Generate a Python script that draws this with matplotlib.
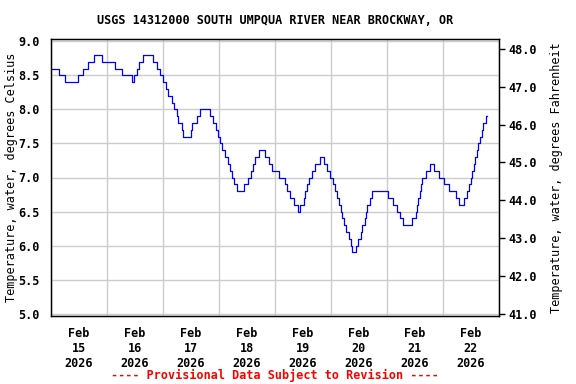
import numpy as np
import pandas as pd
import matplotlib
matplotlib.use('Agg')
from matplotlib import pyplot as plt
import matplotlib.dates as mdates
from matplotlib.ticker import FuncFormatter, MultipleLocator

# hours after 2026-02-15 00:00 at which the reading changes, and the new reading (deg C)
hours = [0, 3.4, 5.9, 11.7, 13.7, 15.9, 18.3, 22.0, 27.3, 30.6, 34.7, 35.6, 36.7, 37.6,
         39.3, 43.8, 45.6, 46.7, 48.0, 49.3, 50.3, 51.7, 52.9, 53.9, 54.6, 56.0, 56.7,
         59.9, 60.4, 62.4, 63.9, 68.1, 69.6, 70.7, 71.7, 72.5, 73.3, 74.7, 76.0, 76.9,
         77.6, 78.3, 79.6, 82.9, 84.4, 85.7, 86.7, 87.6, 89.3, 91.8, 93.6, 94.7, 97.9,
         100.4, 101.1, 102.6, 104.0, 105.9, 106.8, 108.3, 109.0, 109.7, 110.7, 111.9,
         113.3, 115.4, 116.9, 118.3, 119.7, 120.9, 121.6, 122.6, 123.4, 124.4, 124.9,
         125.4, 126.3, 127.6, 128.4, 129.0, 130.9, 131.6, 133.0, 133.4, 134.4, 135.1,
         135.6, 136.9, 137.6, 144.4, 146.7, 148.4, 149.6, 151.0, 154.9, 156.3, 156.7,
         157.3, 158.1, 158.4, 158.9, 160.6, 162.4, 164.1, 166.3, 168.4, 170.6, 173.6,
         175.0, 177.1, 178.4, 179.0, 180.0, 180.6, 181.2, 181.7, 182.4, 183.1, 183.9,
         184.6, 185.3, 186.4, 186.7]
temp_c = [8.6, 8.5, 8.4, 8.5, 8.6, 8.7, 8.8, 8.7, 8.6, 8.5, 8.4, 8.5, 8.6, 8.7,
          8.8, 8.7, 8.6, 8.5, 8.4, 8.3, 8.2, 8.1, 8.0, 7.9, 7.8, 7.7, 7.6,
          7.7, 7.8, 7.9, 8.0, 7.9, 7.8, 7.7, 7.6, 7.5, 7.4, 7.3, 7.2, 7.1,
          7.0, 6.9, 6.8, 6.9, 7.0, 7.1, 7.2, 7.3, 7.4, 7.3, 7.2, 7.1, 7.0,
          6.9, 6.8, 6.7, 6.6, 6.5, 6.6, 6.7, 6.8, 6.9, 7.0, 7.1,
          7.2, 7.3, 7.2, 7.1, 7.0, 6.9, 6.8, 6.7, 6.6, 6.5, 6.4,
          6.3, 6.2, 6.1, 6.0, 5.9, 6.0, 6.1, 6.2, 6.3, 6.4, 6.5,
          6.6, 6.7, 6.8, 6.7, 6.6, 6.5, 6.4, 6.3, 6.4, 6.5, 6.6,
          6.7, 6.8, 6.9, 7.0, 7.1, 7.2, 7.1, 7.0, 6.9, 6.8, 6.7,
          6.6, 6.7, 6.8, 6.9, 7.0, 7.1, 7.2, 7.3, 7.4, 7.5, 7.6,
          7.7, 7.8, 7.9, 7.9]

title = 'USGS 14312000 SOUTH UMPQUA RIVER NEAR BROCKWAY, OR'
start = pd.Timestamp('2026-02-15')
end = pd.Timestamp('2026-02-23')

plt.rc('font', family='DejaVu Sans Mono', weight='bold', size=8.5)

times = start + pd.to_timedelta(hours, unit='h')

fig = plt.figure(figsize=(5.76, 3.84), dpi=100)
ax = fig.add_axes([51/576, 1 - 316/384, 448/576, 277/384])
ax.plot(times, temp_c, drawstyle='steps-post', color='#0000ff', linewidth=0.9)

ax.set_xlim(start, end)
ax.set_ylim(4.965, 9.035)
ax.yaxis.set_major_locator(MultipleLocator(0.5))
ax.yaxis.set_major_formatter(FuncFormatter(lambda v, p: '%.1f' % v))

# grid at midnight, labels at noon
ax.xaxis.set_major_locator(mdates.DayLocator())
ax.xaxis.set_major_formatter(plt.NullFormatter())
ax.xaxis.set_minor_locator(mdates.HourLocator(byhour=[12]))
ax.xaxis.set_minor_formatter(mdates.DateFormatter('%b\n%d\n%Y'))
ax.tick_params(axis='x', which='both', length=0, pad=8)
ax.tick_params(axis='y', length=0, pad=8)
ax.grid(True, which='major', color='#cccccc', linewidth=1)
ax.set_axisbelow(True)
for s in ax.spines.values():
    s.set_linewidth(1)

ax.set_ylabel('Temperature, water, degrees Celsius')
ax.yaxis.set_label_coords(-0.074, 0.5)

# Fahrenheit on the right
ax2 = ax.twinx()
lo, hi = ax.get_ylim()
ax2.set_ylim(lo * 9 / 5 + 32, hi * 9 / 5 + 32)
ax2.yaxis.set_major_locator(MultipleLocator(1.0))
ax2.yaxis.set_major_formatter(FuncFormatter(lambda v, p: '%.1f' % v))
ax2.tick_params(axis='y', direction='out', length=4, width=1, pad=3)
ax2.set_ylabel('Temperature, water, degrees Fahrenheit')
ax2.yaxis.set_label_coords(1.114, 0.5)

fig.text(275/576, 1 - 21/384, title, ha='center', va='center')
fig.text(275/576, 1 - 375/384, '---- Provisional Data Subject to Revision ----',
         ha='center', va='center', color='red')

fig.savefig('out.png', dpi=100)
